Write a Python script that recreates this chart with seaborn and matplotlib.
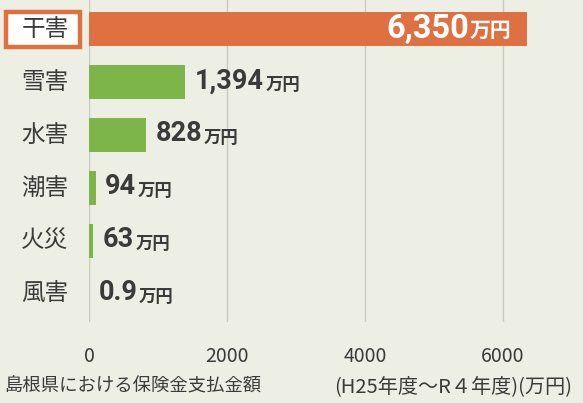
import matplotlib
matplotlib.use("Agg")
import matplotlib.pyplot as plt
import matplotlib.transforms as mtransforms
from matplotlib.patches import Rectangle
import pandas as pd
import seaborn as sns

sns.set_theme(style="whitegrid")
plt.rcParams["font.family"] = ["Noto Sans CJK JP", "DejaVu Sans"]

# 島根県における保険金支払金額（H25年度～R4年度）
categories = ["干害", "雪害", "水害", "潮害", "火災", "風害"]
amounts = [6350, 1394, 828, 94, 63, 0.9]
amount_labels = ["6,350", "1,394", "828", "94", "63", "0.9"]
bar_colors = ["#de7042", "#7db54a", "#7db54a", "#7db54a", "#7db54a", "#7db54a"]
x_ticks = [0, 2000, 4000, 6000]

bg = "#eeefe4"
text_col = "#3a3a3a"

df = pd.DataFrame({"cat": categories, "amount": amounts})

fig = plt.figure(figsize=(5.83, 4.03), dpi=100, facecolor=bg)
ax = fig.add_axes([0.1527, 0.201, 0.8473, 0.799])
ax.set_facecolor(bg)

sns.barplot(data=df, x="amount", y="cat", hue="cat", palette=bar_colors,
            legend=False, orient="h", width=0.65, saturation=1,
            linewidth=0, ax=ax)

ax.set_xlim(0, 7160)
ax.set_ylim(5.53, -0.55)
ax.set_xticks(x_ticks)
ax.set_xticklabels([str(t) for t in x_ticks])
ax.grid(axis="x", color="#c9c9c0", linewidth=1)
ax.grid(axis="y", visible=False)
for s in ax.spines.values():
    s.set_visible(False)
ax.tick_params(axis="x", length=0, pad=17, labelsize=14, labelcolor=text_col)
ax.tick_params(axis="y", length=0, labelleft=False)
ax.set_xlabel("")
ax.set_ylabel("")

# category names, centred left of the axes
trans = mtransforms.blended_transform_factory(fig.transFigure, ax.transData)
for i, c in enumerate(categories):
    ax.text(0.077, i, c, transform=trans, ha="center", va="center",
            fontsize=17, color=text_col, clip_on=False, zorder=3)

# highlight box around 干害
ax.add_patch(Rectangle((0.011, -0.33), 0.127, 0.66, transform=trans,
                       facecolor="white", edgecolor="#de7042", linewidth=3.2,
                       clip_on=False, zorder=2))

# value labels: number (bold) + 万円 (small)
for i, (v, lab) in enumerate(zip(amounts, amount_labels)):
    if i == 0:
        unit = ax.annotate("万円", xy=(v, i), xytext=(-11, -1),
                           textcoords="offset points", ha="right", va="center",
                           fontsize=15, fontweight="bold", color="white")
        ax.annotate(lab, xy=(0, 0.5), xycoords=unit, xytext=(-1, 1),
                    textcoords="offset points", ha="right", va="center",
                    fontsize=23.5, fontweight="bold", color="white",
                    family=["Roboto", "DejaVu Sans"])
    else:
        num = ax.annotate(lab, xy=(v, i), xytext=(7, 1),
                          textcoords="offset points", ha="left", va="center",
                          fontsize=19.5, fontweight="bold", color=text_col,
                          family=["Roboto", "DejaVu Sans"])
        ax.annotate("万円", xy=(1, 0), xycoords=num, xytext=(1, 0),
                    textcoords="offset points", ha="left", va="bottom",
                    fontsize=12.5, fontweight="bold", color=text_col)

fig.text(0.008, 0.04, "島根県における保険金支払金額",
         ha="left", va="center", fontsize=13.2, color=text_col)
fig.text(0.982, 0.04, "(H25年度～R４年度)(万円)",
         ha="right", va="center", fontsize=14.5, color=text_col)

fig.savefig("out.png", dpi=100, facecolor=bg)
